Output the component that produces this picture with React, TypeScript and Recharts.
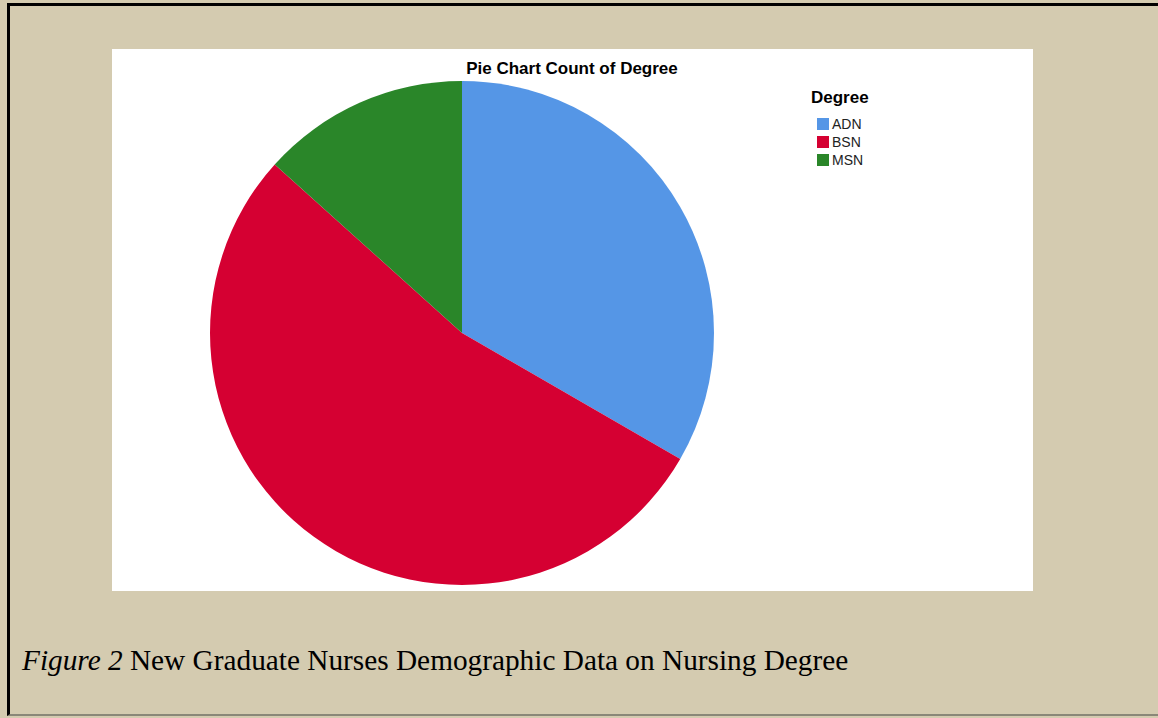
import React from "react";
import { PieChart, Pie, Cell } from "recharts";

const categories = ["ADN", "BSN", "MSN"];
const counts = [5, 8, 2];
const colors = ["#5596e6", "#d50032", "#2a8629"];

const data = categories.map((name, i) => ({ name, value: counts[i] }));

const sans = "Arial, 'Liberation Sans', sans-serif";

export default function App() {
  return (
    <div style={{ position: "absolute", left: 0, top: 0, width: 1158, height: 718, background: "#d4cbb0", overflow: "hidden" }}>
      <div style={{ position: "absolute", left: 7, top: 3, width: 1200, height: 713, borderLeft: "3px solid #000", borderTop: "3px solid #000", borderBottom: "2px solid #8a8778", boxSizing: "border-box" }} />
      <div style={{ position: "absolute", left: 112, top: 49, width: 921, height: 542, background: "#fff" }}>
        <PieChart width={921} height={542} margin={{ top: 0, right: 0, bottom: 0, left: 0 }}>
          <text x={460} y={25} textAnchor="middle" fontFamily={sans} fontWeight="bold" fontSize={17} fill="#000">
            Pie Chart Count of Degree
          </text>
          <Pie
            data={data}
            dataKey="value"
            nameKey="name"
            cx={350}
            cy={284}
            outerRadius={252}
            startAngle={90}
            endAngle={-270}
            stroke="none"
            isAnimationActive={false}
          >
            {data.map((d, i) => (
              <Cell key={d.name} fill={colors[i]} />
            ))}
          </Pie>
        </PieChart>
      </div>
      <div style={{ position: "absolute", left: 811, top: 88, fontFamily: sans, color: "#000" }}>
        <div style={{ fontWeight: "bold", fontSize: 17, lineHeight: "20px", marginBottom: 7 }}>Degree</div>
        {categories.map((c, i) => (
          <div key={c} style={{ display: "flex", alignItems: "center", height: 18, marginLeft: 6 }}>
            <span style={{ display: "inline-block", width: 12, height: 12, background: colors[i], marginRight: 3 }} />
            <span style={{ fontSize: 14, color: "#222" }}>{c}</span>
          </div>
        ))}
      </div>
      <div style={{ position: "absolute", left: 22, top: 646, lineHeight: 1, fontFamily: "'Liberation Serif', 'Times New Roman', serif", fontSize: 29.3, color: "#000", whiteSpace: "nowrap" }}>
        <i>Figure 2</i> New Graduate Nurses Demographic Data on Nursing Degree
      </div>
    </div>
  );
}
